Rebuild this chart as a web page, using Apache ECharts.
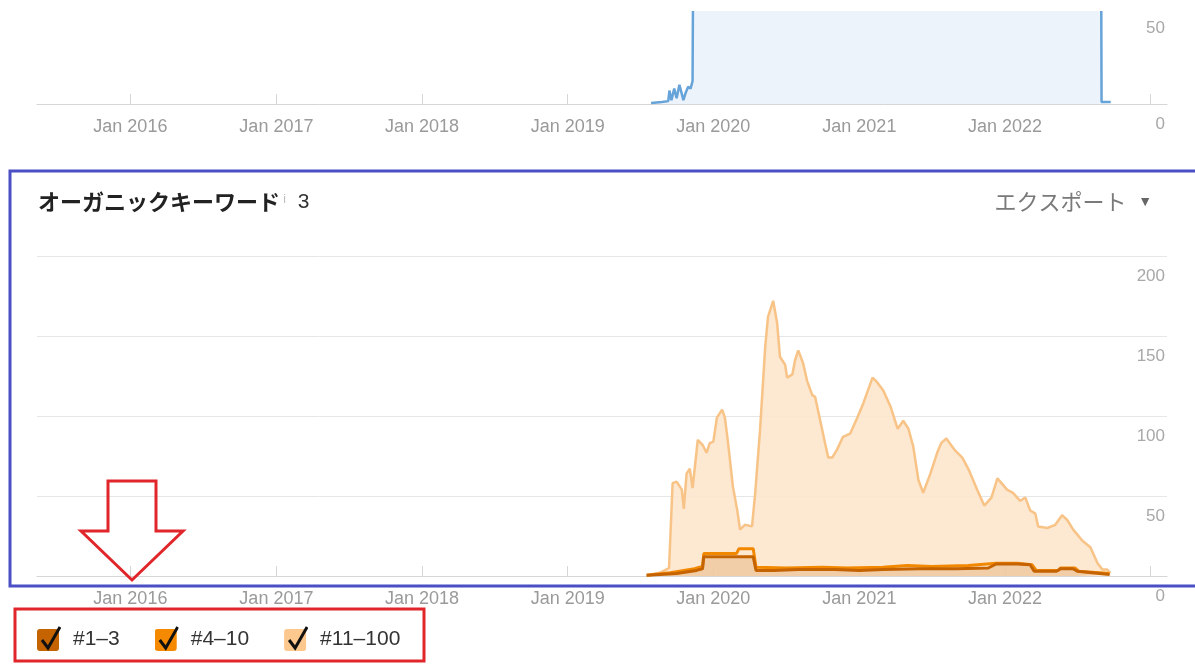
<!DOCTYPE html>
<html lang="ja">
<head>
<meta charset="UTF-8">
<title>オーガニックキーワード</title>
<style>html,body{margin:0;background:#fff}</style>
</head>
<body>
<div id="container" style="width:1195px;height:664px"></div>
<script src="https://cdn.jsdelivr.net/npm/echarts@6/dist/echarts.min.js"></script>
<script>
// top chart (cut off at the top of the screenshot)
var trafficTop = [
  ['2019-07-29', 0.5], ['2019-08-25', 1], ['2019-09-10', 1.5], ['2019-09-13', 7], ['2019-09-18', 2],
  ['2019-09-25', 8], ['2019-10-01', 3], ['2019-10-08', 10], ['2019-10-13', 11], ['2019-10-18', 2],
  ['2019-10-24', 6], ['2019-10-30', 9], ['2019-11-05', 8], ['2019-11-10', 12], ['2019-11-13', 140],
  ['2022-08-29', 140], ['2022-08-31', 1], ['2022-09-23', 1]
];

// organic keywords by position
var kw11to100 = [
  ['2019-07-18', 0.5], ['2019-08-20', 2], ['2019-09-12', 5], ['2019-09-21', 58], ['2019-10-01', 59],
  ['2019-10-14', 54], ['2019-10-19', 42], ['2019-10-26', 64], ['2019-11-03', 67], ['2019-11-10', 55],
  ['2019-11-23', 85], ['2019-12-05', 82], ['2019-12-15', 77], ['2019-12-23', 83], ['2020-01-01', 84],
  ['2020-01-10', 99], ['2020-01-23', 104], ['2020-01-30', 99], ['2020-02-07', 83], ['2020-02-19', 56],
  ['2020-03-01', 41], ['2020-03-08', 29], ['2020-03-20', 32], ['2020-04-07', 31], ['2020-04-15', 52],
  ['2020-04-27', 91], ['2020-05-10', 143], ['2020-05-17', 162], ['2020-05-30', 172], ['2020-06-09', 158],
  ['2020-06-16', 137], ['2020-06-29', 132], ['2020-07-04', 124], ['2020-07-17', 126], ['2020-07-24', 135],
  ['2020-08-01', 141], ['2020-08-13', 133], ['2020-08-23', 122], ['2020-09-05', 113], ['2020-09-12', 112],
  ['2020-09-25', 97], ['2020-10-07', 83], ['2020-10-15', 74], ['2020-10-25', 74], ['2020-11-06', 79],
  ['2020-11-21', 87], ['2020-12-09', 89], ['2020-12-27', 99], ['2021-01-11', 108], ['2021-02-03', 124],
  ['2021-02-15', 121], ['2021-03-02', 116], ['2021-03-20', 106], ['2021-04-07', 92], ['2021-04-21', 97],
  ['2021-05-04', 92], ['2021-05-16', 81], ['2021-05-29', 60], ['2021-06-10', 52], ['2021-06-28', 64],
  ['2021-07-15', 77], ['2021-07-25', 83], ['2021-08-07', 86], ['2021-08-27', 79], ['2021-09-16', 74],
  ['2021-10-03', 66], ['2021-10-23', 54], ['2021-11-10', 44], ['2021-11-28', 49], ['2021-12-13', 61],
  ['2022-01-06', 54], ['2022-01-21', 52], ['2022-02-08', 47], ['2022-02-21', 49], ['2022-03-05', 41],
  ['2022-03-18', 39], ['2022-03-25', 31], ['2022-04-17', 30], ['2022-05-07', 32], ['2022-05-24', 38],
  ['2022-06-06', 35], ['2022-06-21', 29], ['2022-07-14', 22], ['2022-08-03', 18], ['2022-08-21', 8],
  ['2022-09-02', 4], ['2022-09-14', 4], ['2022-09-22', 2]
];
var kw4to10 = [
  ['2019-07-18', 0.5], ['2019-09-15', 2], ['2019-11-15', 4.5], ['2019-12-05', 6], ['2019-12-08', 14],
  ['2020-02-28', 14], ['2020-03-05', 17], ['2020-04-10', 17], ['2020-04-17', 5.5], ['2020-07-01', 5],
  ['2020-10-01', 5.5], ['2020-12-01', 5], ['2021-03-01', 5.5], ['2021-05-01', 6.5], ['2021-07-01', 6],
  ['2021-10-01', 6.5], ['2021-12-10', 8], ['2022-02-01', 8], ['2022-03-10', 7], ['2022-03-20', 3.5],
  ['2022-05-15', 3.5], ['2022-05-20', 5], ['2022-06-25', 5], ['2022-07-05', 3], ['2022-09-20', 1.5]
];
var kw1to3 = [
  ['2019-07-18', 0.5], ['2019-10-01', 1.5], ['2019-11-20', 3.5], ['2019-12-05', 4.5], ['2019-12-08', 12],
  ['2020-04-10', 12], ['2020-04-17', 3.5], ['2020-06-01', 3.5], ['2020-08-01', 4], ['2020-11-01', 4],
  ['2021-01-01', 3.5], ['2021-03-01', 4], ['2021-06-01', 4.5], ['2021-09-01', 4.5], ['2021-11-20', 5],
  ['2021-12-10', 7.5], ['2022-02-01', 7.5], ['2022-03-05', 7], ['2022-03-15', 3], ['2022-05-10', 3],
  ['2022-05-20', 4.5], ['2022-06-20', 4.5], ['2022-07-01', 3], ['2022-09-20', 1]
];

var tickYears = [2016, 2017, 2018, 2019, 2020, 2021, 2022];
var legendNames = ['#1–3', '#4–10', '#11–100'];
var legendColors = ['#c46300', '#f58a00', '#fcc88e'];

function checkIcon(color) {
  var svg = "<svg xmlns='http://www.w3.org/2000/svg' width='24' height='26'>" +
    "<rect x='0' y='3' width='22' height='22' rx='3' fill='" + color + "'/>" +
    "<path d='M5 14 L11 22 L23 1' stroke='#111' stroke-width='3' fill='none'/></svg>";
  return 'image://data:image/svg+xml;charset=utf-8,' + encodeURIComponent(svg);
}

function janLabel(value) {
  var d = new Date(value);
  if (d.getMonth() !== 0 || d.getDate() !== 1 || tickYears.indexOf(d.getFullYear()) < 0) return '';
  return 'Jan ' + d.getFullYear();
}

var font = 'Liberation Sans, Arial, sans-serif';
var xCommon = {
  type: 'time',
  min: '2015-05-12',
  max: '2023-02-11',
  splitNumber: 8,
  minInterval: 365 * 24 * 3600 * 1000,
  axisLine: { lineStyle: { color: '#d6d6d6' } },
  axisTick: { show: true, inside: true, length: 10, lineStyle: { color: '#d6d6d6' } },
  splitLine: { show: false },
  axisLabel: {
    formatter: janLabel, showMinLabel: false, showMaxLabel: false,
    color: '#9a9a9a', fontSize: 18, fontFamily: font, margin: 14, hideOverlap: false
  }
};
var yLabel = {
  inside: true, margin: 2, verticalAlign: 'top', padding: [12, 0, 0, 0],
  color: '#a8a8a8', fontSize: 17, fontFamily: font
};

var chart = echarts.init(document.getElementById('container'));
var option = {
  animation: false,
  backgroundColor: '#fff',
  title: [
    {
      left: 33, top: 186,
      text: '{a|オーガニックキーワード}{i| i}{n|  3}',
      textStyle: {
        rich: {
          a: { fontSize: 22, fontWeight: 'bold', color: '#222', fontFamily: 'Noto Sans CJK JP' },
          i: { fontSize: 12, fontWeight: 'normal', color: '#bbb', fontFamily: font, padding: [0, 0, 4, 0] },
          n: { fontSize: 21, fontWeight: 'normal', color: '#333', fontFamily: font }
        }
      }
    },
    {
      right: 38, top: 186,
      text: '{e|エクスポート}{t|   ▼}',
      textStyle: {
        rich: {
          e: { fontSize: 22, fontWeight: 'normal', color: '#7a7a7a', fontFamily: 'Noto Sans CJK JP' },
          t: { fontSize: 14, fontWeight: 'normal', color: '#666', fontFamily: font }
        }
      }
    }
  ],
  legend: {
    left: 32, top: 621,
    selectedMode: false,
    itemWidth: 24, itemHeight: 26, itemGap: 35,
    textStyle: { fontSize: 21, color: '#333', fontFamily: font, padding: [0, 0, 0, 7] },
    data: legendNames.map(function (n, i) {
      return { name: n, icon: checkIcon(legendColors[i]) };
    })
  },
  grid: [
    { left: 37, right: 28, top: 8, height: 96 },
    { left: 37, right: 28, top: 256, height: 320 }
  ],
  xAxis: [
    Object.assign({ gridIndex: 0 }, xCommon),
    Object.assign({ gridIndex: 1 }, xCommon)
  ],
  yAxis: [
    {
      gridIndex: 0, type: 'value', position: 'right', min: 0, max: 50, interval: 50,
      axisLine: { show: false }, axisTick: { show: false }, splitLine: { show: false },
      axisLabel: yLabel
    },
    {
      gridIndex: 1, type: 'value', position: 'right', min: 0, max: 200, interval: 50,
      axisLine: { show: false }, axisTick: { show: false },
      splitLine: { lineStyle: { color: '#e6e6e6' } },
      axisLabel: yLabel
    }
  ],
  series: [
    {
      name: 'traffic', type: 'line', xAxisIndex: 0, yAxisIndex: 0,
      data: trafficTop, showSymbol: false,
      lineStyle: { color: '#66a3d9', width: 2.5 },
      areaStyle: { color: '#edf3fb', opacity: 1 }
    },
    {
      name: legendNames[2], type: 'line', xAxisIndex: 1, yAxisIndex: 1,
      data: kw11to100, showSymbol: false, color: legendColors[2],
      lineStyle: { color: '#f8c386', width: 2.5 },
      areaStyle: { color: '#fde6cd', opacity: 0.9 }
    },
    {
      name: legendNames[1], type: 'line', xAxisIndex: 1, yAxisIndex: 1,
      data: kw4to10, showSymbol: false, color: legendColors[1],
      lineStyle: { color: '#f28700', width: 3 }
    },
    {
      name: legendNames[0], type: 'line', xAxisIndex: 1, yAxisIndex: 1,
      data: kw1to3, showSymbol: false, color: legendColors[0],
      lineStyle: { color: '#c46300', width: 3 },
      areaStyle: { color: '#d99a5c', opacity: 0.35 }
    }
  ],
  graphic: [
    // white band above the cut-off top chart
    { type: 'rect', z: 100, shape: { x: 0, y: 0, width: 1195, height: 11 }, style: { fill: '#fff' } },
    // blue frame around the keywords card
    { type: 'rect', z: 100, shape: { x: 10, y: 171, width: 1200, height: 415 },
      style: { fill: null, stroke: '#4a4fc6', lineWidth: 3 } },
    // red arrow
    { type: 'polygon', z: 100,
      shape: { points: [[108, 481], [156, 481], [156, 531], [183, 531], [132, 580], [81, 531], [108, 531]] },
      style: { fill: null, stroke: '#e0262a', lineWidth: 3 } },
    // red box round the legend
    { type: 'rect', z: 100, shape: { x: 15, y: 609, width: 409, height: 52 },
      style: { fill: null, stroke: '#e0262a', lineWidth: 3 } }
  ]
};
chart.setOption(option);
</script>
</body>
</html>
